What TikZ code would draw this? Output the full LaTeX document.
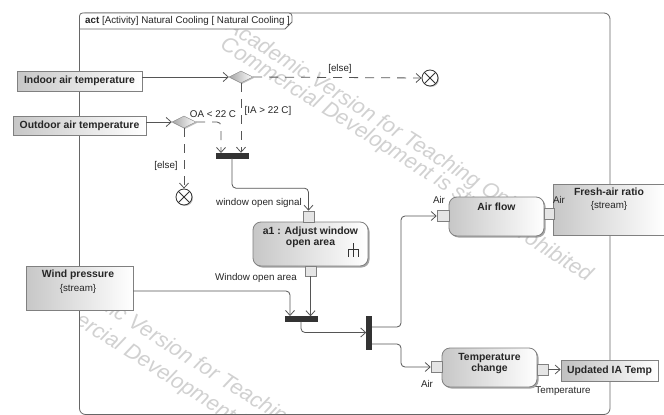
\documentclass[tikz,border=0pt]{standalone}
\usepackage{fontspec}
\setmainfont{Liberation Sans}
\usetikzlibrary{arrows.meta,shapes.geometric,shadows}
\definecolor{linec}{HTML}{555555}
\tikzset{
  x=1pt,y=-1pt,
  every node/.style={font=\fontsize{9.8}{11}\selectfont,text=black!85},
  flow/.style={draw=linec,line width=.8pt,rounded corners=4pt,-{Straight Barb[length=5pt,width=9pt]}},
  dflow/.style={flow,dash pattern=on 9pt off 7pt},
  param/.style={draw=black!50,line width=.7pt,left color=black!22,right color=white,inner sep=0pt,align=center,font=\fontsize{10.4}{11}\selectfont\bfseries},
  action/.style={draw=black!50,line width=.8pt,rounded corners=8pt,left color=black!22,right color=white,inner sep=0pt,
     drop shadow={shadow xshift=1.5pt,shadow yshift=-1.5pt,fill=black!50,opacity=.7}},
  pin/.style={draw=black!50,line width=.6pt,fill=black!10,inner sep=0pt},
  dec/.style={diamond,aspect=2,draw=black!45,left color=black!35,right color=white,inner sep=0pt,minimum width=24pt,minimum height=12pt,
     drop shadow={shadow xshift=1pt,shadow yshift=-1pt,fill=black!40,opacity=.6}},
  bar/.style={fill=black!80,draw=black!80,inner sep=0pt},
  final/.style={circle,draw=black!80,fill=white,line width=.8pt,minimum size=16pt,inner sep=0pt,
     drop shadow={shadow xshift=1pt,shadow yshift=-1pt,fill=black!40,opacity=.6},
     path picture={\draw[black!80,line width=.8pt] (path picture bounding box.north west)--(path picture bounding box.south east)
       (path picture bounding box.north east)--(path picture bounding box.south west);}},
  mark text/.style={text=black!18,font=\fontsize{21.5}{24}\selectfont\itshape,rotate=-32.5,anchor=west,inner sep=0pt},
}
\begin{document}
\begin{tikzpicture}
\useasboundingbox (0,0) rectangle (664,415);
\fill[white] (0,0) rectangle (664,415);
% watermarks, kept inside the frame
\begin{scope}
\clip (79.5,13) rectangle (610,414.5);
\node[mark text] (w1) at (228,25) {Academic Version for Teaching Only};
\node[mark text] (w2) at (222,43) {Commercial Development is strictly prohibited};
\node[mark text] (w3) at (45,267) {Academic Version for Teaching Only};
\node[mark text] (w4) at (24,285) {Commercial Development is strictly prohibited};
\end{scope}
% frame
\draw[black!60,line width=.8pt,rounded corners=6pt] (79.5,29) -- (79.5,13) -- (610,13) -- (610,414.5) -- (79.5,414.5) -- (79.5,29);
\draw[black!60,line width=.8pt,fill=white,rounded corners=3pt] (79.5,29) -- (79.5,13) -- (292,13) [sharp corners] -- (292,22) -- (285,29) -- cycle;
\node[anchor=west,inner sep=0pt] (title) at (85,21) {\textbf{act} [Activity] Natural Cooling [ Natural Cooling ]};
% parameter nodes
\node[param,minimum width=125pt,minimum height=20pt] (indoor) at (79.5,81) {Indoor air temperature};
\node[param,minimum width=133pt,minimum height=19pt] (outdoor) at (79.5,125.5) {Outdoor air temperature};
\node[param,minimum width=107pt,minimum height=44pt] (wind) at (79.5,288) {};
\node[font=\fontsize{10.4}{11}\selectfont\bfseries] (windt) at (78,275) {Wind pressure};
\node (winds) at (78,288.5) {\{stream\}};
\node[param,minimum width=111pt,minimum height=51pt] (fresh) at (608.5,209.5) {};
\node[font=\fontsize{10.4}{11}\selectfont\bfseries] (fresht) at (609,192) {Fresh-air ratio};
\node (freshs) at (609,206) {\{stream\}};
\node[param,minimum width=97pt,minimum height=21pt,left color=black!25] (updated) at (609.5,370.5) {Updated IA Temp};
% control nodes
\node[dec] (d1) at (241,77) {};
\node[dec] (d2) at (184,122) {};
\node[final] (ff1) at (430,78) {};
\node[final] (ff2) at (184,197) {};
\node[bar,minimum width=32pt,minimum height=5pt] (fork1) at (232,155.5) {};
\node[bar,minimum width=32pt,minimum height=5pt] (fork2) at (301,319) {};
\node[bar,minimum width=5pt,minimum height=33pt] (fork3) at (369,332.5) {};
% actions
\node[action,minimum width=115pt,minimum height=44pt,
  label={[anchor=north,yshift=-2pt,align=center,font=\fontsize{10.4}{11}\selectfont\bfseries,name=a1t]north:{a1 : Adjust window\\open area}}] (a1) at (310.5,244) {};
\node[action,minimum width=95pt,minimum height=39pt,
  label={[anchor=north,yshift=-3pt,font=\fontsize{10.4}{11}\selectfont\bfseries,name=aft]north:{Air flow}}] (airflow) at (496.5,216.5) {};
\node[action,minimum width=95pt,minimum height=39pt,
  label={[anchor=north,yshift=-2pt,align=center,font=\fontsize{10.4}{11}\selectfont\bfseries,name=tct]north:{Temperature\\change}}] (temp) at (489.5,367.5) {};
% pins
\node[pin,minimum width=11pt,minimum height=11pt] (p1) at (308.5,216.5) {};
\node[pin,minimum width=11pt,minimum height=10pt] (p2) at (310.5,271) {};
\node[pin,minimum width=12pt,minimum height=11pt] (p3) at (443,215.5) {};
\node[pin,minimum width=10pt,minimum height=11pt] (p4) at (549,214) {};
\node[pin,minimum width=11pt,minimum height=11pt] (p5) at (436.5,367) {};
\node[pin,minimum width=11pt,minimum height=11pt] (p6) at (542.5,369.5) {};
% rake icon
\draw[black!80,line width=.8pt] (353,243) -- (353,257) (348,257) -- (348,249) -- (358,249) -- (358,257);
% connectors
\coordinate (f1a) at (221,153);
\coordinate (w2f) at (290,316);
\coordinate (f3a) at (372,327);
\coordinate (f3b) at (372,344);
\draw[flow] (indoor.east |- d1.west) -- (d1.west);
\draw[flow] (outdoor.east |- d2.west) -- (d2.west);
\draw[dflow] (d1.east) -- (ff1.west);
\draw[dflow] (d1.south) -- (d1.south |- fork1.north);
\draw[dflow] (d2.east) -| (f1a);
\draw[dflow] (d2.south) -- (ff2.north);
\draw[flow] (fork1.south) -- ++(0,30) -| (p1.north);
\draw[flow] (p2.south) -- (p2.south |- fork2.north);
\draw[flow] (wind.east |- 0,291) -| (w2f);
\draw[flow] (fork2.south) |- (fork3.west);
\draw[flow] (f3a) -| (401,216) -- (p3.west |- 0,216);
\draw[flow] (f3b) -| (401,367) -- (p5.west);
\draw[flow,rounded corners=0pt] (p6.east) -- (updated.west |- p6.east);
% labels
\node (l1) at (340,69) {[else]};
\node (l2) at (268,110.5) {[IA > 22 C]};
\node (l3) at (213,114.5) {OA < 22 C};
\node (l4) at (166,165.5) {[else]};
\node (l5) at (259,203) {window open signal};
\node (l6) at (256,278) {Window open area};
\node (l7) at (439,200) {Air};
\node (l8) at (559,199.5) {Air};
\node (l9) at (427,384) {Air};
\node (l10) at (563,391) {Temperature};
\end{tikzpicture}
\end{document}
